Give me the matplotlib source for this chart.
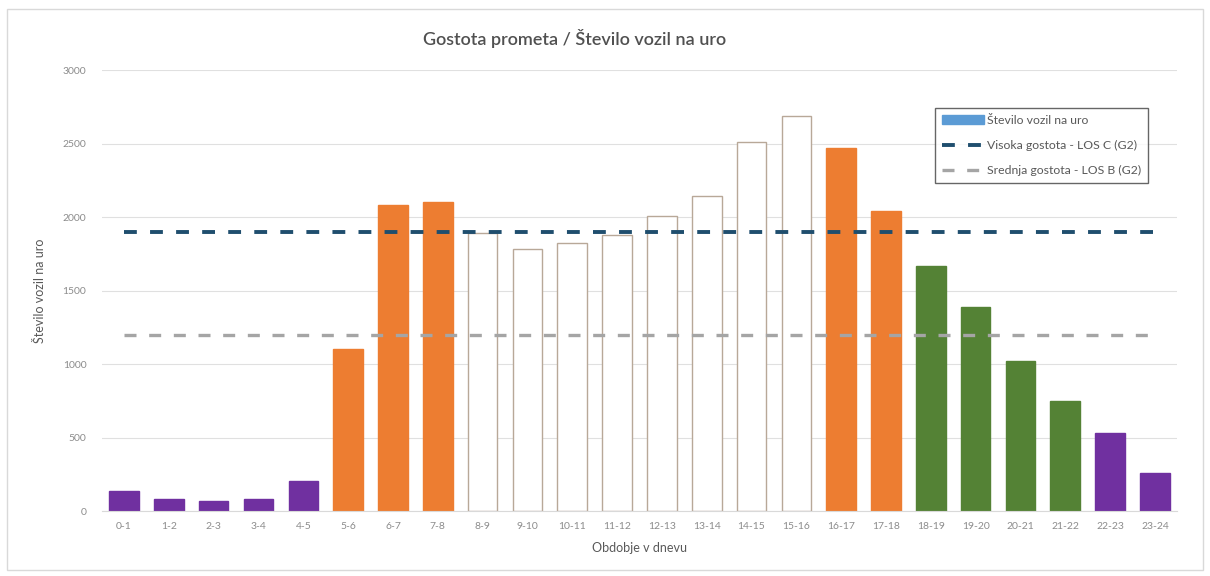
import numpy as np
import matplotlib.pyplot as plt
from matplotlib.patches import Patch, Rectangle
from matplotlib.lines import Line2D

plt.rcParams['font.family'] = ['Lato', 'DejaVu Sans']

periods = ["0-1", "1-2", "2-3", "3-4", "4-5", "5-6", "6-7", "7-8", "8-9", "9-10",
           "10-11", "11-12", "12-13", "13-14", "14-15", "15-16", "16-17", "17-18",
           "18-19", "19-20", "20-21", "21-22", "22-23", "23-24"]
vehicles = [135, 85, 70, 85, 205, 1100, 2080, 2100, 1890, 1780,
            1820, 1880, 2010, 2140, 2510, 2690, 2470, 2040,
            1670, 1390, 1020, 750, 530, 260]
# night / peak / day / evening
load_class = ["n", "n", "n", "n", "n", "p", "p", "p", "d", "d",
              "d", "d", "d", "d", "d", "d", "p", "p",
              "e", "e", "e", "e", "n", "n"]
los_c = 1900
los_b = 1200

fills = {"n": "#7030A0", "p": "#ED7D31", "e": "#548235", "d": "white"}
edges = {"n": "#7030A0", "p": "#ED7D31", "e": "#548235", "d": "#b8a898"}

fig = plt.figure(figsize=(12.1, 5.76), dpi=100)
ax = fig.add_axes([0.084, 0.1128, 0.889, 0.7656])

x = np.arange(len(periods))
ax.bar(x, vehicles, width=0.66,
       color=[fills[c] for c in load_class],
       edgecolor=[edges[c] for c in load_class],
       linewidth=1.0, zorder=2)

ax.plot([x[0], x[-1]], [los_c, los_c], color="#1f4e6e", lw=2.8,
        dashes=(3.3, 3.4), zorder=3)
ax.plot([x[0], x[-1]], [los_b, los_b], color="#a5a5a5", lw=2.4,
        dashes=(3.6, 3.8), zorder=3)

ax.set_xlim(-0.5, len(periods) - 0.5)
ax.set_ylim(0, 3000)
ax.set_yticks(np.arange(0, 3001, 500))
ax.set_xticks(x)
ax.set_xticklabels(periods)
ax.tick_params(axis="both", length=0, labelsize=7.5, labelcolor="#8c8c8c")
ax.tick_params(axis="x", pad=8)
ax.tick_params(axis="y", pad=11)
ax.grid(axis="y", color="#e0e0e0", lw=0.8, zorder=0)
ax.set_axisbelow(True)
for s in ["left", "right", "top"]:
    ax.spines[s].set_visible(False)
ax.spines["bottom"].set_color("#d9d9d9")

ax.set_xlabel("Obdobje v dnevu", fontsize=9, color="#595959", labelpad=8)
ax.set_ylabel("Število vozil na uro", fontsize=9, color="#595959", labelpad=12)

fig.text(0.475, 0.934, "Gostota prometa / Število vozil na uro", ha="center",
         va="center", fontsize=13, color="#505050", fontweight="semibold")

handles = [Patch(facecolor="#5B9BD5", edgecolor="#5B9BD5"),
           Line2D([], [], color="#1f4e6e", lw=2.8, dashes=(3.3, 3.4)),
           Line2D([], [], color="#a5a5a5", lw=2.4, dashes=(3.6, 3.8))]
labels = ["Število vozil na uro", "Visoka gostota - LOS C (G2)",
          "Srednja gostota - LOS B (G2)"]
leg = fig.legend(handles, labels, loc="upper left",
                 bbox_to_anchor=(0.773, 0.812), fontsize=8.8,
                 frameon=True, fancybox=False, handlelength=3.4,
                 labelspacing=1.15, borderpad=0.55, handletextpad=0.3,
                 borderaxespad=0)
leg.get_frame().set_edgecolor("#404040")
leg.get_frame().set_linewidth(1.0)
for t in leg.get_texts():
    t.set_color("#595959")

# outer chart frame
fig.patches.append(Rectangle((0.006, 0.01), 0.988, 0.975, transform=fig.transFigure,
                             fill=False, edgecolor="#d9d9d9", lw=1.0))

fig.savefig("out.png", dpi=100)
